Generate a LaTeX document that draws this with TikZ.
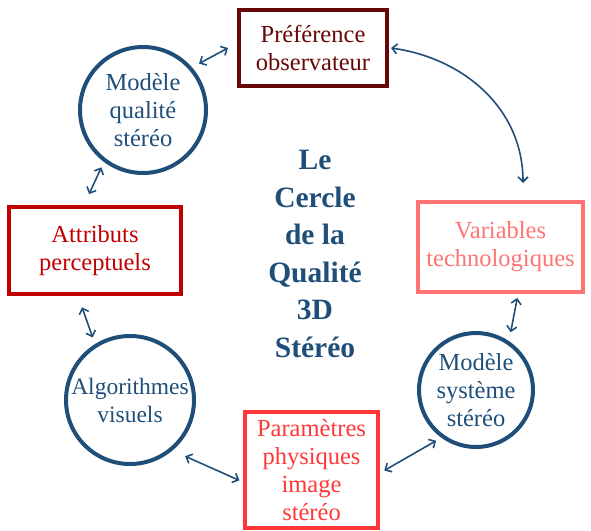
\documentclass[tikz,border=0pt]{standalone}
\usepackage{fontspec}
\setmainfont{Liberation Serif}
\usetikzlibrary{arrows.meta}
\definecolor{cblue}{RGB}{31,78,121}
\definecolor{cmaroon}{RGB}{102,8,8}
\definecolor{cdred}{RGB}{192,0,0}
\definecolor{cred}{RGB}{255,55,55}
\definecolor{cpink}{RGB}{255,115,115}
\tikzset{
  x=1pt,y=1pt,
  lbl/.style={font=\fontsize{24.5}{28}\selectfont, align=center, inner sep=0pt},
  boxnode/.style={lbl, draw, line width=4pt, rectangle},
  circnode/.style={lbl, draw=cblue, text=cblue, line width=4pt, circle},
  arr/.style={draw=cblue, line width=1.6pt, {Straight Barb[length=5pt,width=10pt]}-{Straight Barb[length=5pt,width=10pt]}},
}
\begin{document}
\begin{tikzpicture}
\useasboundingbox (0,-530) rectangle (591,0);
\node[boxnode, draw=cmaroon, text=cmaroon, minimum width=148, minimum height=76] (pref) at (313,-48) {Préférence\\observateur};
\node[circnode, minimum size=126] (mq) at (143,-110) {Modèle\\qualité\\stéréo};
\node[boxnode, draw=cdred, text=cdred, minimum width=172, minimum height=87] (attr) at (95,-250.5) {Attributs\\perceptuels};
\node[circnode, minimum size=128, font=\fontsize{23.5}{28}\selectfont] (algo) at (130,-400) {Algorithmes\\visuels};
\node[boxnode, draw=cred, text=cred, minimum width=133, minimum height=116] (param) at (311.5,-470) {Paramètres\\physiques\\image\\stéréo};
\node[circnode, minimum size=114] (sys) at (476,-390) {Modèle\\système\\stéréo};
\node[boxnode, draw=cpink, text=cpink, minimum width=165, minimum height=90] (var) at (500.5,-247) {Variables\\technologiques};
\node[align=center, inner sep=0pt, text=cblue, font=\fontsize{29.5}{37.5}\selectfont\bfseries] (title) at (315,-254) {Le\\Cercle\\de la\\Qualité\\3D\\Stéréo};
\draw[arr, shorten >=8pt] ([xshift=-9pt]pref.west) -- (mq.41);
\draw[arr] ([xshift=2pt]pref.east) to[out=-8,in=90] ([xshift=22.5pt,yshift=17pt]var.north);
\draw[arr, shorten <=6pt, shorten >=12pt] (mq.233) -- ([xshift=-11pt]attr.north);
\draw[arr, shorten <=12pt, shorten >=7pt] ([xshift=-17pt]attr.south) -- (algo.122);
\draw[arr, shorten <=14pt, shorten >=4pt] (algo.-50) -- ([yshift=-12pt]param.west);
\draw[arr, shorten <=5pt, shorten >=6pt] ([yshift=-3pt]param.east) -- (sys.234);
\draw[arr, shorten <=9pt, shorten >=4pt] (sys.56) -- ([xshift=17.5pt]var.south);
\end{tikzpicture}
\end{document}
